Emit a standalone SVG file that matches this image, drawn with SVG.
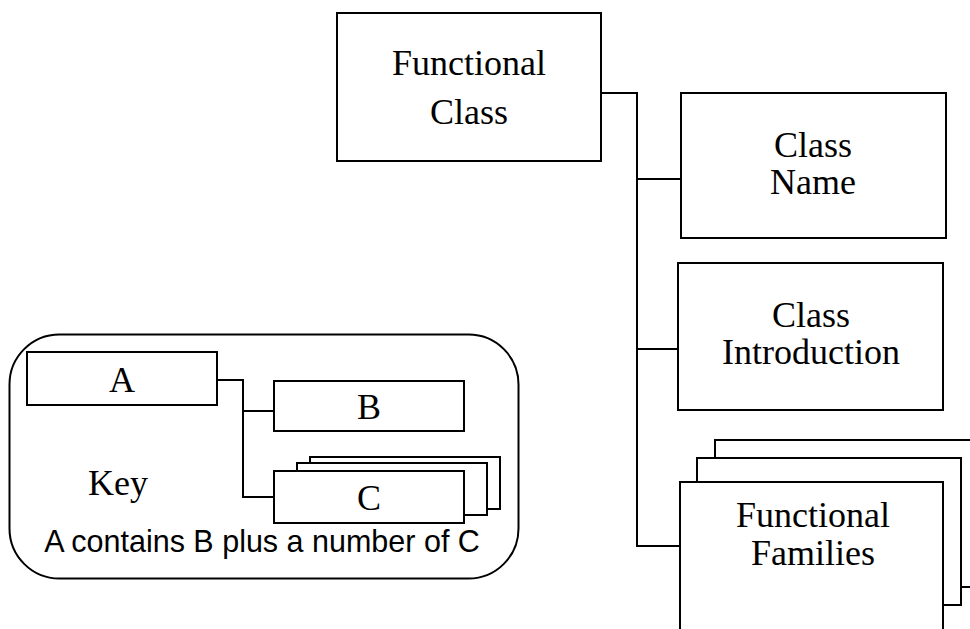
<svg xmlns="http://www.w3.org/2000/svg" width="970" height="629" viewBox="0 0 970 629">
<style>
.box{fill:#fff;stroke:#000;stroke-width:2}
.con{fill:none;stroke:#000;stroke-width:2}
.t{font-family:"Liberation Serif","Times New Roman",serif;font-size:36px;fill:#000;text-anchor:middle}
.s{font-family:"Liberation Sans",Arial,sans-serif;font-size:30.5px;fill:#000;text-anchor:middle}
</style>
<rect width="970" height="629" fill="#fff"/>
<g id="connectors">
<polyline class="con" points="601,93 637,93 637,546 680,546"/>
<line class="con" x1="637" y1="179" x2="681" y2="179"/>
<line class="con" x1="637" y1="349" x2="678" y2="349"/>
<polyline class="con" points="217,380 243,380 243,497 274,497"/>
<line class="con" x1="243" y1="411" x2="274" y2="411"/>
</g>
<g id="functional-class">
<rect class="box" x="337" y="13" width="264" height="148"/>
<text class="t" x="469" y="75">Functional</text>
<text class="t" x="469" y="124">Class</text>
</g>
<g id="class-name">
<rect class="box" x="681" y="93" width="265" height="145"/>
<text class="t" x="813" y="157">Class</text>
<text class="t" x="813" y="194">Name</text>
</g>
<g id="class-introduction">
<rect class="box" x="678" y="263" width="265" height="147"/>
<text class="t" x="811" y="327">Class</text>
<text class="t" x="811" y="364">Introduction</text>
</g>
<g id="functional-families">
<rect class="box" x="715" y="440" width="270" height="147"/>
<rect class="box" x="697" y="458" width="264" height="147"/>
<rect class="box" x="680" y="482" width="263" height="170"/>
<text class="t" x="813" y="527">Functional</text>
<text class="t" x="813" y="565">Families</text>
</g>
<g id="key">
<rect class="con" x="9.5" y="334.5" width="509" height="244" rx="50" ry="50"/>
<g id="key-a">
<rect class="box" x="27" y="352" width="190" height="53"/>
<text class="t" x="122" y="392">A</text>
</g>
<g id="key-b">
<rect class="box" x="274" y="381" width="190" height="50"/>
<text class="t" x="369" y="419">B</text>
</g>
<g id="key-c">
<rect class="box" x="310" y="457" width="190" height="52"/>
<rect class="box" x="297" y="463" width="190" height="52"/>
<rect class="box" x="274" y="471" width="190" height="52"/>
<text class="t" x="369" y="510">C</text>
</g>
<text class="t" x="118" y="495">Key</text>
<text class="s" x="262" y="552">A contains B plus a number of C</text>
</g>
</svg>
